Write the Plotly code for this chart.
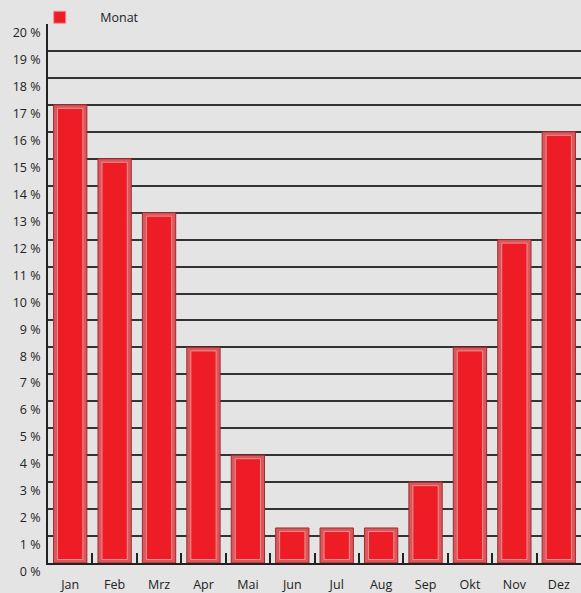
import plotly.graph_objects as go

months = ["Jan", "Feb", "Mrz", "Apr", "Mai", "Jun", "Jul", "Aug", "Sep", "Okt", "Nov", "Dez"]
values = [17, 15, 13, 8, 4, 1.3, 1.3, 1.3, 3, 8, 12, 16]
series_name = "Monat"

bevel = 0.13
inner_heights = [v - 2 * bevel for v in values]

fig = go.Figure()
fig.add_trace(go.Bar(
    x=months, y=values, width=0.75, showlegend=False,
    marker=dict(color="#d9585c", line=dict(color="#a5282d", width=1)),
    hoverinfo="skip",
))
fig.add_trace(go.Bar(
    x=months, y=inner_heights, base=bevel, width=0.57, name=series_name,
    marker=dict(color="#ee1c25", line=dict(color="#f28f92", width=1)),
))

fig.update_layout(
    width=581, height=593,
    margin=dict(l=48, r=0, t=24, b=30, autoexpand=False),
    paper_bgcolor="#e4e4e4", plot_bgcolor="#e4e4e4",
    barmode="overlay",
    font=dict(family="Open Sans", size=12, color="#222"),
    showlegend=True,
    legend=dict(orientation="h", x=-0.054, y=0.984, xanchor="left", yanchor="bottom",
                itemwidth=71, bgcolor="rgba(0,0,0,0)", font=dict(size=12.5, color="#222"),
                tracegroupgap=0),
    xaxis=dict(
        type="category", showgrid=False, showline=True, linecolor="#222", linewidth=2,
        ticks="inside", tickson="boundaries", ticklen=10, tickcolor="#222", tickwidth=1.5,
        tickfont=dict(size=12.5, color="#222"), ticklabelstandoff=9, fixedrange=True,
    ),
    yaxis=dict(
        range=[0, 20], dtick=1, ticksuffix=" %", showgrid=True, gridcolor="#333",
        gridwidth=1.5, showline=True, linecolor="#222", linewidth=2, ticks="",
        zeroline=False, tickfont=dict(size=12.5, color="#222"), ticklabelstandoff=3,
        ticklabelposition="outside bottom", fixedrange=True,
    ),
)

fig.write_html("out.html")
